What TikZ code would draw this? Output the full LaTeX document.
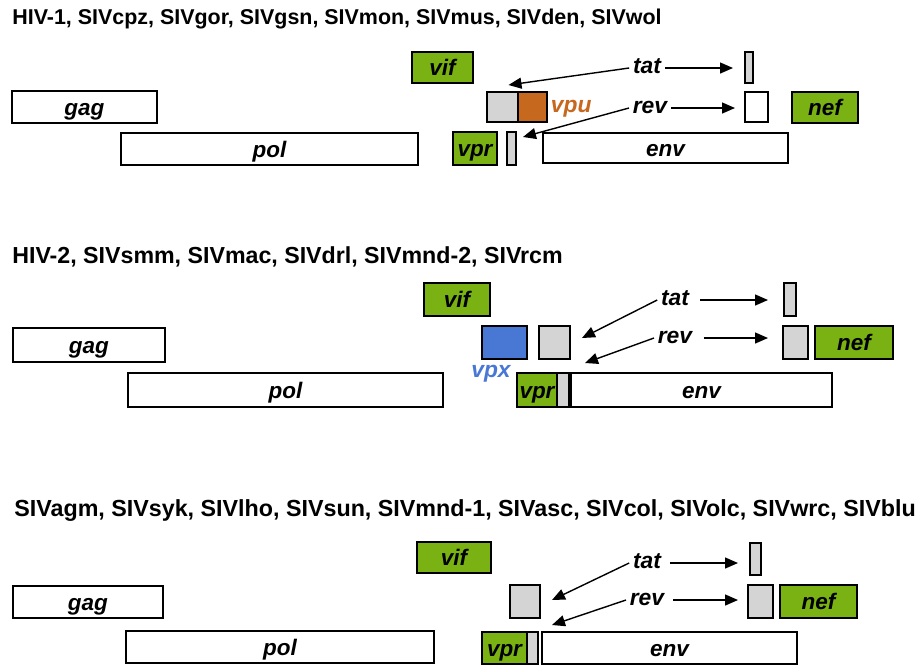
\documentclass[tikz,border=0pt]{standalone}
\usepackage{fontspec}
\setmainfont{Liberation Sans}
\usepackage{tikz}
\usetikzlibrary{
	arrows.meta,
	positioning
}

\definecolor{genegreen}{RGB}{122,178,20}
\definecolor{genegray}{RGB}{212,212,212}
\definecolor{vpuorange}{RGB}{198,104,30}
\definecolor{vpxblue}{RGB}{72,120,212}

\begin{document}
\begin{tikzpicture}[
				x=0.02cm, y=-0.02cm,
				gene/.style={
					rectangle, draw, line width=1.2pt,
					anchor=north west, inner sep=0pt, outer sep=0pt,
					text height=0.42cm, text depth=0.10cm,
					font=\fontsize{12.8}{14}\selectfont\bfseries\itshape
				},
				whitebox/.style={
					gene, fill=white
				},
				greenbox/.style={
					gene, fill=genegreen
				},
				graybox/.style={
					gene, fill=genegray
				},
				orangebox/.style={
					gene, fill=vpuorange
				},
				bluebox/.style={
					gene, fill=vpxblue
				},
				exonlabel/.style={
					inner sep=2pt, text height=0.3cm, text depth=0.1cm,
					font=\fontsize{13}{14}\selectfont\bfseries\itshape
				},
				title/.style={
					anchor=west, inner sep=0pt, font=\bfseries
				},
				arrow/.style={-{Triangle[length=0.26cm, width=0.22cm]}, line width=0.8pt, black}
				]
				
				\useasboundingbox (0,0) rectangle (920,664);
				
				% HIV-1 group
				\node[title, font=\fontsize{12.2}{14}\selectfont\bfseries] (title1) at (12,19) {HIV-1, SIVcpz, SIVgor, SIVgsn, SIVmon, SIVmus, SIVden, SIVwol};
				
				\node[whitebox, minimum width=2.90cm, minimum height=0.64cm] (gag1) at (12,91) {gag};
				\node[whitebox, minimum width=5.94cm, minimum height=0.64cm] (pol1) at (121,133) {pol};
				\node[greenbox, minimum width=1.22cm, minimum height=0.62cm] (vif1) at (412,52) {vif};
				\node[graybox, minimum width=0.62cm, minimum height=0.60cm] (exonA1) at (487,92) {};
				\node[orangebox, minimum width=0.58cm, minimum height=0.60cm] (vpu1) at (518,92) {};
				\node[exonlabel, anchor=west, text=vpuorange] (vpuname1) at (vpu1.east) {vpu};
				\node[greenbox, minimum width=0.88cm, minimum height=0.66cm] (vpr1) at (453,132) {vpr};
				\node[graybox, minimum width=0.18cm, minimum height=0.66cm] (exonB1) at (507,132) {};
				\node[whitebox, minimum width=4.90cm, minimum height=0.60cm] (env1) at (543,133) {env};
				\node[exonlabel] (tat1) at (647,68) {tat};
				\node[graybox, minimum width=0.16cm, minimum height=0.62cm] (tatex1) at (745,52) {};
				\node[exonlabel] (rev1) at (650,108) {rev};
				\node[whitebox, minimum width=0.46cm, minimum height=0.60cm] (revex1) at (745,92) {};
				\node[greenbox, minimum width=1.32cm, minimum height=0.62cm] (nef1) at (792,92) {nef};
				
				\draw[arrow] (tat1.west) -- ([xshift=0.12cm,yshift=0.14cm]exonA1.north);
				\draw[arrow, shorten >=0.24cm] (tat1.east) -- (tat1.east -| tatex1.west);
				\draw[arrow] (rev1.west) -- ([xshift=0.14cm,yshift=-0.1cm]exonB1.north east);
				\draw[arrow, shorten >=0.2cm] (rev1.east) -- (rev1.east -| revex1.west);
				
				% HIV-2 group
				\node[title, font=\fontsize{13.2}{14}\selectfont\bfseries] (title2) at (12,257) {HIV-2, SIVsmm, SIVmac, SIVdrl, SIVmnd-2, SIVrcm};
				
				\node[whitebox, minimum width=3.04cm, minimum height=0.68cm] (gag2) at (13,328) {gag};
				\node[whitebox, minimum width=6.30cm, minimum height=0.68cm] (pol2) at (128,373) {pol};
				\node[greenbox, minimum width=1.32cm, minimum height=0.66cm] (vif2) at (424,283) {vif};
				\node[bluebox, minimum width=0.90cm, minimum height=0.66cm] (vpx2) at (482,326) {};
				\node[exonlabel, text=vpxblue] (vpxname2) at (491,372) {vpx};
				\node[graybox, minimum width=0.62cm, minimum height=0.66cm] (exonA2) at (539,326) {};
				\node[greenbox, minimum width=0.80cm, minimum height=0.68cm] (vpr2) at (517,373) {vpr};
				\node[graybox, minimum width=0.24cm, minimum height=0.68cm] (exonB2) at (557,373) {};
				\node[whitebox, minimum width=5.22cm, minimum height=0.68cm] (env2) at (571,373) {env};
				\node[exonlabel] (tat2) at (675,300) {tat};
				\node[graybox, minimum width=0.24cm, minimum height=0.66cm] (tatex2) at (784,283) {};
				\node[exonlabel] (rev2) at (675,338) {rev};
				\node[graybox, minimum width=0.50cm, minimum height=0.66cm] (revex2) at (783,326) {};
				\node[greenbox, minimum width=1.56cm, minimum height=0.66cm] (nef2) at (815,326) {nef};
				
				\draw[arrow] (tat2.west) -- ([xshift=0.24cm,yshift=0.09cm]exonA2.east);
				\draw[arrow, shorten <=0.15cm, shorten >=0.32cm] (tat2.east) -- (tat2.east -| tatex2.west);
				\draw[arrow] (rev2.west) -- ([xshift=0.28cm,yshift=0.2cm]env2.north west);
				\draw[arrow, shorten <=0.15cm, shorten >=0.3cm] (rev2.east) -- (rev2.east -| revex2.west);
				
				% SIVagm group
				\node[title, font=\fontsize{13.25}{14}\selectfont\bfseries] (title3) at (14,511) {SIVagm, SIVsyk, SIVlho, SIVsun, SIVmnd-1, SIVasc, SIVcol, SIVolc, SIVwrc, SIVblu};
				
				\node[whitebox, minimum width=3.00cm, minimum height=0.64cm] (gag3) at (13,586) {gag};
				\node[whitebox, minimum width=6.16cm, minimum height=0.64cm] (pol3) at (126,631) {pol};
				\node[greenbox, minimum width=1.48cm, minimum height=0.62cm] (vif3) at (417,542) {vif};
				\node[graybox, minimum width=0.60cm, minimum height=0.66cm] (exonA3) at (510,585) {};
				\node[greenbox, minimum width=0.90cm, minimum height=0.64cm] (vpr3) at (482,632) {vpr};
				\node[graybox, minimum width=0.22cm, minimum height=0.64cm] (exonB3) at (527,632) {};
				\node[whitebox, minimum width=5.10cm, minimum height=0.64cm] (env3) at (542,632) {env};
				\node[exonlabel] (tat3) at (647,563) {tat};
				\node[graybox, minimum width=0.22cm, minimum height=0.64cm] (tatex3) at (750,543) {};
				\node[exonlabel] (rev3) at (647,600) {rev};
				\node[graybox, minimum width=0.50cm, minimum height=0.66cm] (revex3) at (748,585) {};
				\node[greenbox, minimum width=1.54cm, minimum height=0.66cm] (nef3) at (780,585) {nef};
				
				\draw[arrow] (tat3.west) -- ([xshift=0.24cm,yshift=0.03cm]exonA3.east);
				\draw[arrow, shorten <=0.1cm, shorten >=0.24cm] (tat3.east) -- (tat3.east -| tatex3.west);
				\draw[arrow] (rev3.west) -- ([xshift=0.28cm,yshift=0.14cm]exonB3.north east);
				\draw[arrow, shorten <=0.1cm, shorten >=0.2cm] (rev3.east) -- (rev3.east -| revex3.west);
			\end{tikzpicture}
\end{document}
